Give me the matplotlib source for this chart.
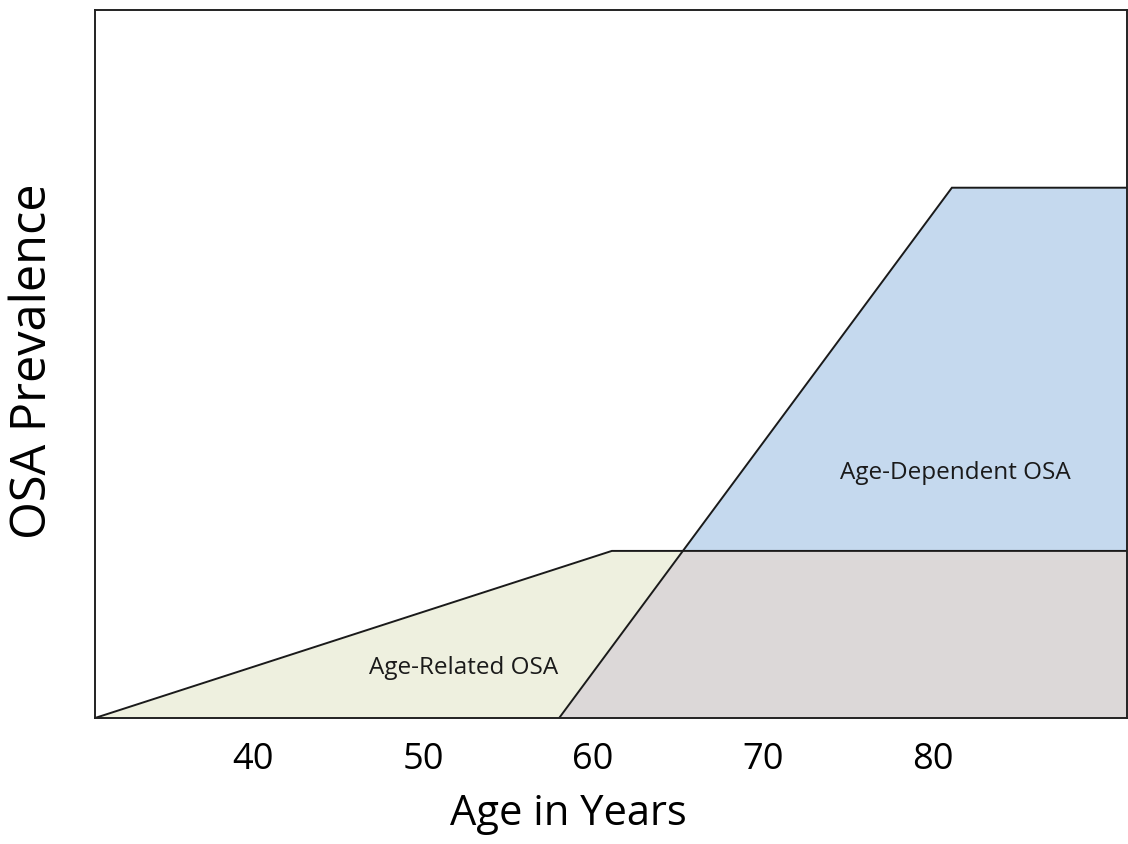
import matplotlib
matplotlib.use("Agg")
import matplotlib.pyplot as plt
import numpy as np

# Data
age_related_x = [30.7, 61.1, 91.4]
age_related_y = [0.0, 23.6, 23.6]
age_dependent_x = [30.7, 58.0, 81.1, 91.4]
age_dependent_y = [0.0, 0.0, 74.9, 74.9]
xticks = [40, 50, 60, 70, 80]
xlim = (30.7, 91.4)
ylim = (0, 100)

plt.rcParams['font.family'] = ['Open Sans', 'DejaVu Sans']

fig = plt.figure(figsize=(11.28, 8.44), dpi=100)
ax = fig.add_axes([95/1128, 1-718/844, (1127-95)/1128, (718-10)/844])

xs = np.union1d(np.linspace(xlim[0], xlim[1], 2000), age_related_x + age_dependent_x)
ar = np.interp(xs, age_related_x, age_related_y)
ad = np.interp(xs, age_dependent_x, age_dependent_y)
low = np.minimum(ar, ad)

ax.fill_between(xs, 0, low, color='#dcd8d8', lw=0)
ax.fill_between(xs, low, ar, where=ar >= ad, color='#eef0df', lw=0, interpolate=True)
ax.fill_between(xs, low, ad, where=ad >= ar, color='#c5d9ee', lw=0, interpolate=True)

ax.plot(age_related_x, age_related_y, color='#1a1a1a', lw=1.4, solid_joinstyle='miter')
ad_mask = np.array(age_dependent_x) >= 58.0
ax.plot(np.array(age_dependent_x)[ad_mask], np.array(age_dependent_y)[ad_mask],
        color='#1a1a1a', lw=1.4, solid_joinstyle='miter')

ax.text(52.4, 7.0, 'Age-Related OSA', fontsize=17.5, ha='center', va='center', color='#1a1a1a')
ax.text(81.3, 34.6, 'Age-Dependent OSA', fontsize=17.5, ha='center', va='center', color='#1a1a1a')

ax.set_xlim(*xlim)
ax.set_ylim(*ylim)
ax.set_xticks(xticks)
ax.set_xticklabels([str(t) for t in xticks])
ax.set_yticks([])
ax.tick_params(axis='x', length=0, pad=17, labelsize=26)
for s in ax.spines.values():
    s.set_linewidth(1.4)
    s.set_color('#222222')
ax.set_xlabel('Age in Years', fontsize=30, labelpad=11)
ax.xaxis.label.set_x(0.459)
ax.set_ylabel('OSA Prevalence', fontsize=35)
ax.yaxis.set_label_coords(-0.036, 0.504)

fig.savefig('out.png', dpi=100)
